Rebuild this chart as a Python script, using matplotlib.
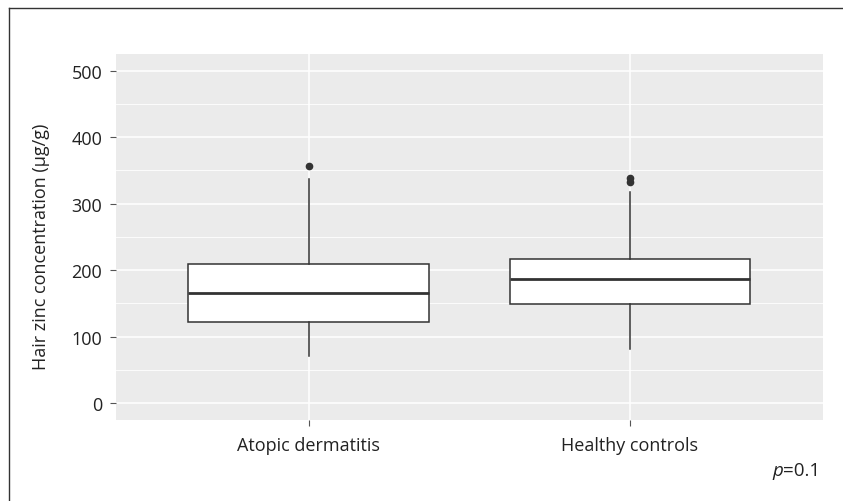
import matplotlib
matplotlib.use("Agg")
import matplotlib.pyplot as plt
from matplotlib.lines import Line2D

groups = ["Atopic dermatitis", "Healthy controls"]
q1 = [122, 149]
med = [165, 187]
q3 = [209, 217]
whislo = [71, 82]
whishi = [337, 318]
fliers = [[356], [332, 338]]
yticks = [0, 100, 200, 300, 400, 500]
ylabel = "Hair zinc concentration (µg/g)"
pnote_p = "p"
pnote_rest = "=0.1"

plt.rcParams['font.family'] = ['Open Sans', 'DejaVu Sans']

W, H = 843, 502
fig = plt.figure(figsize=(W / 100, H / 100), dpi=100)
ax = fig.add_axes([116 / W, (H - 420.7) / H, (822.7 - 116) / W, (420.7 - 55) / H])
ax.set_facecolor('#ebebeb')

stats = []
for i in range(len(groups)):
    stats.append(dict(label=groups[i], q1=q1[i], med=med[i], q3=q3[i],
                      whislo=whislo[i], whishi=whishi[i], fliers=fliers[i]))

ax.bxp(stats, positions=[1, 2], widths=0.75, patch_artist=True, showcaps=False,
       boxprops=dict(facecolor='white', edgecolor='#333333', linewidth=1.1),
       medianprops=dict(color='#333333', linewidth=2.0),
       whiskerprops=dict(color='#333333', linewidth=1.1),
       flierprops=dict(marker='o', markerfacecolor='#333333', markeredgecolor='#333333',
                       markersize=4.5), zorder=3)

ax.set_xlim(0.4, 2.6)
ax.set_ylim(-25, 525)
ax.set_yticks(yticks)
ax.set_yticklabels([str(v) for v in yticks])
ax.set_yticks([50, 150, 250, 350, 450], minor=True)
ax.set_xticks([1, 2])
ax.set_xticklabels(groups)

ax.grid(True, which='major', color='white', linewidth=1.1, zorder=0)
ax.grid(True, which='minor', axis='y', color='white', linewidth=0.6, zorder=0)
ax.set_axisbelow(True)
for s in ax.spines.values():
    s.set_visible(False)

ax.tick_params(axis='both', which='major', length=4, width=0.8, color='#555555',
               labelsize=13, labelcolor='#222222')
ax.tick_params(axis='y', which='major', pad=6)
ax.tick_params(axis='x', which='major', pad=8)
ax.tick_params(axis='y', which='minor', length=0)

ax.set_ylabel(ylabel, fontsize=13, color='#222222')
ax.yaxis.set_label_coords(-0.093, 0.476)

# figure frame (left and top visible)
fig.add_artist(Line2D([8.5 / W, 8.5 / W], [0, 1 - 9 / H], transform=fig.transFigure,
                      color='#333333', linewidth=1.0))
fig.add_artist(Line2D([8.5 / W, 1], [1 - 9 / H, 1 - 9 / H], transform=fig.transFigure,
                      color='#333333', linewidth=1.0))

t2 = fig.text(820 / W, 1 - 476 / H, pnote_rest, ha='right', va='baseline',
              fontsize=13.5, color='#222222')
fig.canvas.draw()
bb = t2.get_window_extent()
fig.text(bb.x0 / W, 1 - 476 / H, pnote_p, ha='right', va='baseline',
         fontsize=13.5, style='italic', color='#222222')

fig.savefig('out.png', dpi=100)
